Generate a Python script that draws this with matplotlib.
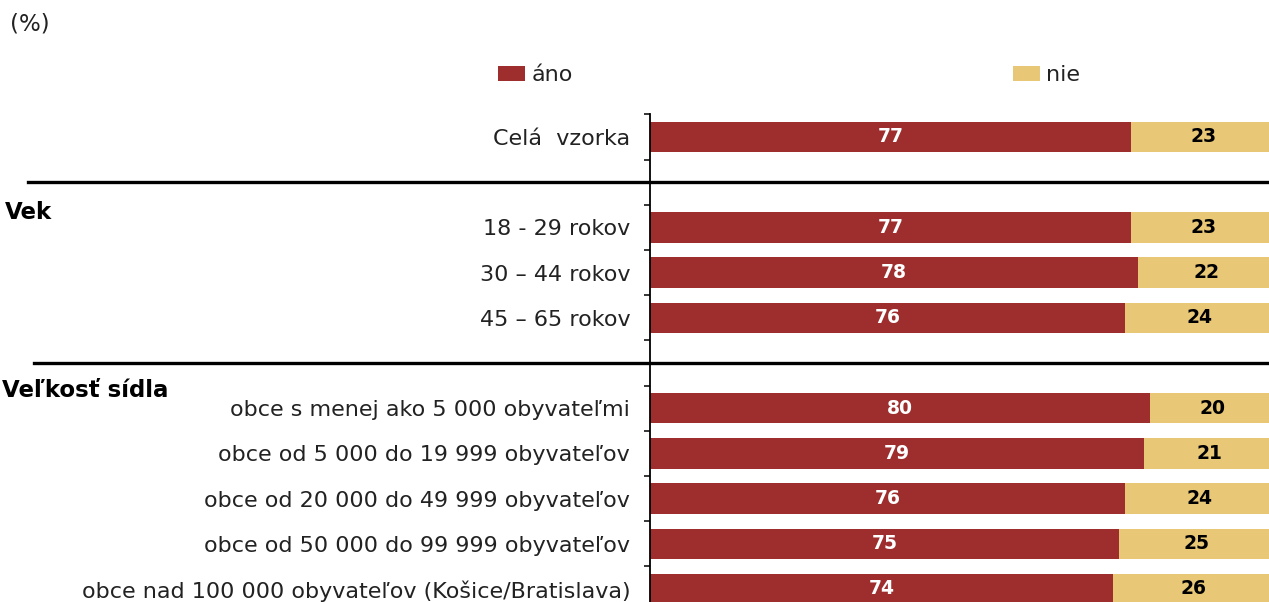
import matplotlib
matplotlib.use("Agg")
import matplotlib.pyplot as plt
import matplotlib.transforms as mtransforms
from matplotlib.patches import Patch
from matplotlib.lines import Line2D

plt.rcParams['font.family'] = ['DejaVu Sans']

# ---- data ----
categories = [
    "Celá  vzorka",
    "",
    "18 - 29 rokov",
    "30 – 44 rokov",
    "45 – 65 rokov",
    "",
    "obce s menej ako 5 000 obyvateľmi",
    "obce od 5 000 do 19 999 obyvateľov",
    "obce od 20 000 do 49 999 obyvateľov",
    "obce od 50 000 do 99 999 obyvateľov",
    "obce nad 100 000 obyvateľov (Košice/Bratislava)",
]
ano = [77, None, 77, 78, 76, None, 80, 79, 76, 75, 74]
nie = [23, None, 23, 22, 24, None, 20, 21, 24, 25, 26]
group_headers = ["Vek", "Veľkosť sídla"]
series_names = ["áno", "nie"]
unit_label = "(%)"

# ---- style ----
RED = "#9E2E2E"
YEL = "#E8C876"
TXT = "#222222"
FS = 16
W, H = 1269, 602
fig = plt.figure(figsize=(W / 100, H / 100), dpi=100)
ax = fig.add_axes([650 / W, 1 - 611.6 / H, (1275 - 650) / W, (611.6 - 114.4) / H])

n = len(categories)
ys = list(range(n))
for y, a, b in zip(ys, ano, nie):
    if a is None:
        continue
    ax.barh(y, a, height=0.67, left=0, color=RED, edgecolor="none")
    ax.barh(y, b, height=0.67, left=a, color=YEL, edgecolor="none")
    ax.text(a / 2, y, str(a), ha="center", va="center", color="white",
            fontsize=13.5, fontweight="bold")
    ax.text(a + b / 2, y, str(b), ha="center", va="center", color="black",
            fontsize=13.5, fontweight="bold")

ax.set_xlim(0, 100)
ax.set_ylim(n - 0.5, -0.5)

for s in ["top", "right", "bottom"]:
    ax.spines[s].set_visible(False)
ax.spines["left"].set_linewidth(1.3)
ax.set_xticks([])

# tick marks between categories, labels at centers
ax.set_yticks([i - 0.5 for i in range(n + 1)])
ax.set_yticklabels([])
ax.tick_params(axis="y", which="major", length=4.3, width=1.1, direction="out")
ax.set_yticks(ys, minor=True)
ax.set_yticklabels(categories, minor=True, fontsize=FS, color=TXT)
ax.tick_params(axis="y", which="minor", length=0, pad=14.3)

trans = mtransforms.blended_transform_factory(fig.transFigure, ax.transData)

# separator lines
for y_sep, x0 in [(1, 28), (5, 34)]:
    fig.add_artist(Line2D([x0 / W, 1.0], [y_sep, y_sep], transform=trans,
                          color="black", linewidth=2.4, clip_on=False))

# group headers
fig.text(5 / W, 1.68, group_headers[0], transform=trans, fontsize=16.5,
         fontweight="bold", ha="left", va="center", color="black")
fig.text(2 / W, 5.6, group_headers[1], transform=trans, fontsize=16.5,
         fontweight="bold", ha="left", va="center", color="black")

# unit label
fig.text(10 / W, 1 - 24 / H, unit_label, fontsize=16.5, ha="left", va="center",
         color=TXT)

# legends
for name, col, xpos in [(series_names[0], RED, 498), (series_names[1], YEL, 1013)]:
    fig.legend(handles=[Patch(facecolor=col, edgecolor="none")], labels=[name],
               loc="center left", bbox_to_anchor=(xpos / W, 1 - 75 / H),
               frameon=False, fontsize=FS, handlelength=1.2, handleheight=0.68,
               handletextpad=0.3, borderpad=0, borderaxespad=0,
               labelcolor=TXT)

fig.savefig("out.png", dpi=100)
